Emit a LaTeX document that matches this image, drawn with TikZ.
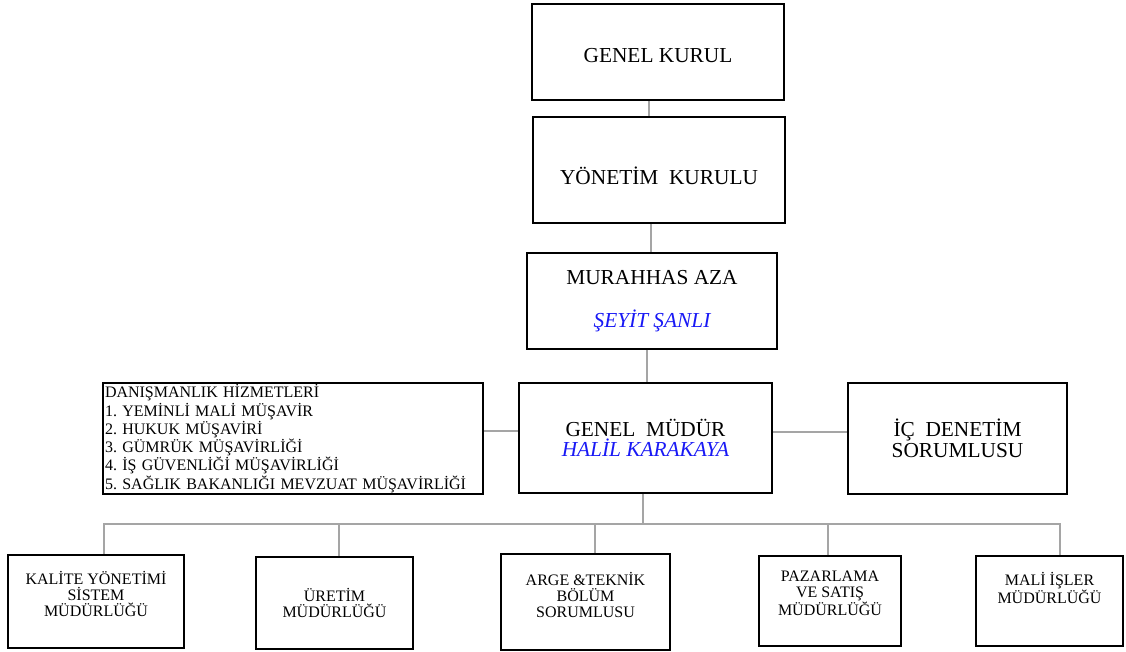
\documentclass[tikz,border=0pt]{standalone}
\usepackage{fontspec}
\setmainfont{Liberation Serif}
\frenchspacing
\usetikzlibrary{positioning}
\definecolor{namecol}{RGB}{25,25,245}
\definecolor{linkcol}{RGB}{165,165,165}

\begin{document}
\begin{tikzpicture}[x=0.75pt,y=-0.75pt,
  unit/.style={draw,line width=1.4pt,inner sep=0pt,align=center,
    font=\fontsize{16}{15.5}\selectfont},
  dept/.style={draw,line width=1.4pt,inner sep=0pt,align=center,
    font=\fontsize{12}{12}\selectfont},
  link/.style={draw=linkcol,line width=0.8pt}]
  \useasboundingbox (0,0) rectangle (1126,652);
  % ust kademe
  \node[unit,minimum width=189pt,minimum height=72pt] (genel) at (658,52)
    {\mbox{}\\[1pt]GENEL KURUL};
  \node[unit,minimum width=189pt,minimum height=79.5pt] (yonetim) at (659,170)
    {\mbox{}\\[7pt]YÖNETİM\ \ KURULU};
  \node[unit,minimum width=187.5pt,minimum height=72pt] (murahhas) at (652,301)
    {MURAHHAS AZA\\[17pt]\textcolor{namecol}{\itshape ŞEYİT ŞANLI}};
  \node[unit,minimum width=190pt,minimum height=82.5pt] (gmudur) at (645.5,438)
    {GENEL\ \ MÜDÜR\\\textcolor{namecol}{\itshape HALİL KARAKAYA}};
  \node[draw,line width=1.4pt,inner xsep=1.5pt,inner ysep=0pt,align=left,
    text width=282pt,minimum height=83pt,font=\fontsize{12}{13.7}\selectfont]
    (danisman) at (293,438.5)
    {DANIŞMANLIK HİZMETLERİ\\1. YEMİNLİ MALİ MÜŞAVİR\\2. HUKUK MÜŞAVİRİ\\
     3. GÜMRÜK MÜŞAVİRLİĞİ\\4. İŞ GÜVENLİĞİ MÜŞAVİRLİĞİ\\
     5. SAĞLIK BAKANLIĞI MEVZUAT MÜŞAVİRLİĞİ};
  \node[unit,minimum width=164pt,minimum height=83pt] (icdenetim) at (957.5,438.5)
    {İÇ\ \ DENETİM\\SORUMLUSU};
  % mudurlukler
  \node[dept,minimum width=132pt,minimum height=70pt] (kalite) at (96,601.5)
    {KALİTE YÖNETİMİ\\SİSTEM\\MÜDÜRLÜĞÜ\\[-0.8pt]\mbox{}};
  \node[dept,minimum width=118pt,minimum height=69pt] (uretim) at (334.5,603)
    {ÜRETİM\\MÜDÜRLÜĞÜ};
  \node[dept,minimum width=127pt,minimum height=72pt] (arge) at (585.5,602)
    {ARGE \&TEKNİK\\BÖLÜM\\SORUMLUSU\\[-1.5pt]\mbox{}};
  \node[dept,minimum width=106.5pt,minimum height=67.5pt] (pazarlama) at (830,601)
    {PAZARLAMA\\VE SATIŞ\\MÜDÜRLÜĞÜ\\\mbox{}};
  \node[dept,minimum width=110.25pt,minimum height=67.5pt] (mali) at (1049.5,601)
    {MALİ İŞLER\\MÜDÜRLÜĞÜ\\[7.5pt]\mbox{}};
  % baglantilar
  \draw[link] (genel.south -| 649,0) -- (yonetim.north -| 649,0);
  \draw[link] (yonetim.south -| 651,0) -- (murahhas.north -| 651,0);
  \draw[link] (murahhas.south -| 647,0) -- (gmudur.north -| 647,0);
  \draw[link] (danisman.east |- 0,431) -- (gmudur.west |- 0,431);
  \draw[link] (gmudur.east |- 0,432) -- (icdenetim.west |- 0,432);
  \coordinate (bus) at (643,524);
  \draw[link] (gmudur.south -| bus) -- (bus);
  \foreach \dep/\x in {kalite/104,uretim/339,arge/595,pazarlama/828,mali/1060}
    \draw[link] (\dep.north -| \x,0) |- (bus);
\end{tikzpicture}
\end{document}
